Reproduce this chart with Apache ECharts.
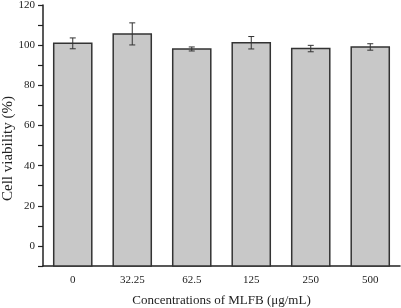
<!DOCTYPE html>
<html>
<head>
<meta charset="utf-8">
<script src="https://cdn.jsdelivr.net/npm/echarts@6/dist/echarts.min.js"></script>
<style>
html, body { margin: 0; padding: 0; background: #fff; }
#main { width: 401px; height: 308px; }
</style>
</head>
<body>
<div id="main"></div>
<script>
// data
var categories = ['0', '32.25', '62.5', '125', '250', '500'];
var viability = [100.9, 105.6, 98.1, 101.2, 98.3, 99.1];
var errors = [2.7, 5.5, 1.0, 3.1, 1.6, 1.6];
var yMin = -10;

var font = 'Liberation Serif';
var myChart = echarts.init(document.getElementById('main'));

var barData = viability.map(function (v, i) { return [i, v]; });
var errData = viability.map(function (v, i) {
	return [i, v - errors[i], v + errors[i]];
});

myChart.setOption({
	backgroundColor: '#fff',
	animation: false,
	grid: { left: 43, right: 1, top: 5, bottom: 42, outerBoundsMode: 'none' },
	xAxis: [
		{
			type: 'category',
			data: categories,
			axisLine: { onZero: false, lineStyle: { color: '#222', width: 1.5 } },
			axisTick: { alignWithLabel: true, length: 5, lineStyle: { color: '#222', width: 1.2 } },
			axisLabel: { fontFamily: font, fontSize: 11, color: '#222', margin: 9 },
			name: 'Concentrations of MLFB (μg/mL)',
			nameLocation: 'middle',
			nameGap: 28,
			nameTextStyle: { fontFamily: font, fontSize: 13, color: '#222' }
		},
		{
			// boundary ticks between categories
			type: 'category',
			data: categories,
			position: 'bottom',
			axisLine: { show: false, onZero: false },
			axisTick: { length: 3, lineStyle: { color: '#222', width: 1.2 } },
			axisLabel: { show: false }
		}
	],
	yAxis: {
		type: 'value',
		min: yMin,
		max: 120,
		interval: 10,
		axisLine: { show: true, lineStyle: { color: '#222', width: 1.5 } },
		axisTick: { show: true, length: 5, lineStyle: { color: '#222', width: 1.2 } },
		splitLine: { show: false },
		axisLabel: {
			fontFamily: font, fontSize: 11, color: '#222', margin: 8,
			formatter: function (v) { return (v % 20 === 0 && v >= 0) ? v : ''; }
		},
		name: 'Cell viability (%)',
		nameLocation: 'middle',
		nameGap: 27,
		nameMoveOverlap: false,
		nameTextStyle: { fontFamily: font, fontSize: 15, color: '#222', padding: [0, 26, 0, 0] }
	},
	series: [
		{
			// bars drawn from the bottom of the axis, as in the original figure
			type: 'custom',
			data: barData,
			renderItem: function (params, api) {
				var x = api.value(0);
				var top = api.coord([x, api.value(1)]);
				var base = api.coord([x, yMin]);
				var w = api.size([1, 0])[0] * 0.64;
				return {
					type: 'rect',
					shape: { x: top[0] - w / 2, y: top[1], width: w, height: base[1] - top[1] },
					style: { fill: '#c8c8c8', stroke: '#333', lineWidth: 1.5 }
				};
			}
		},
		{
			type: 'custom',
			data: errData,
			z: 10,
			renderItem: function (params, api) {
				var x = api.value(0);
				var lo = api.coord([x, api.value(1)]);
				var hi = api.coord([x, api.value(2)]);
				var w = 3;
				var st = { stroke: '#333', lineWidth: 1 };
				return {
					type: 'group',
					children: [
						{ type: 'line', shape: { x1: lo[0], y1: lo[1], x2: hi[0], y2: hi[1] }, style: st },
						{ type: 'line', shape: { x1: lo[0] - w, y1: lo[1], x2: lo[0] + w, y2: lo[1] }, style: st },
						{ type: 'line', shape: { x1: hi[0] - w, y1: hi[1], x2: hi[0] + w, y2: hi[1] }, style: st }
					]
				};
			}
		}
	]
});
</script>
</body>
</html>
